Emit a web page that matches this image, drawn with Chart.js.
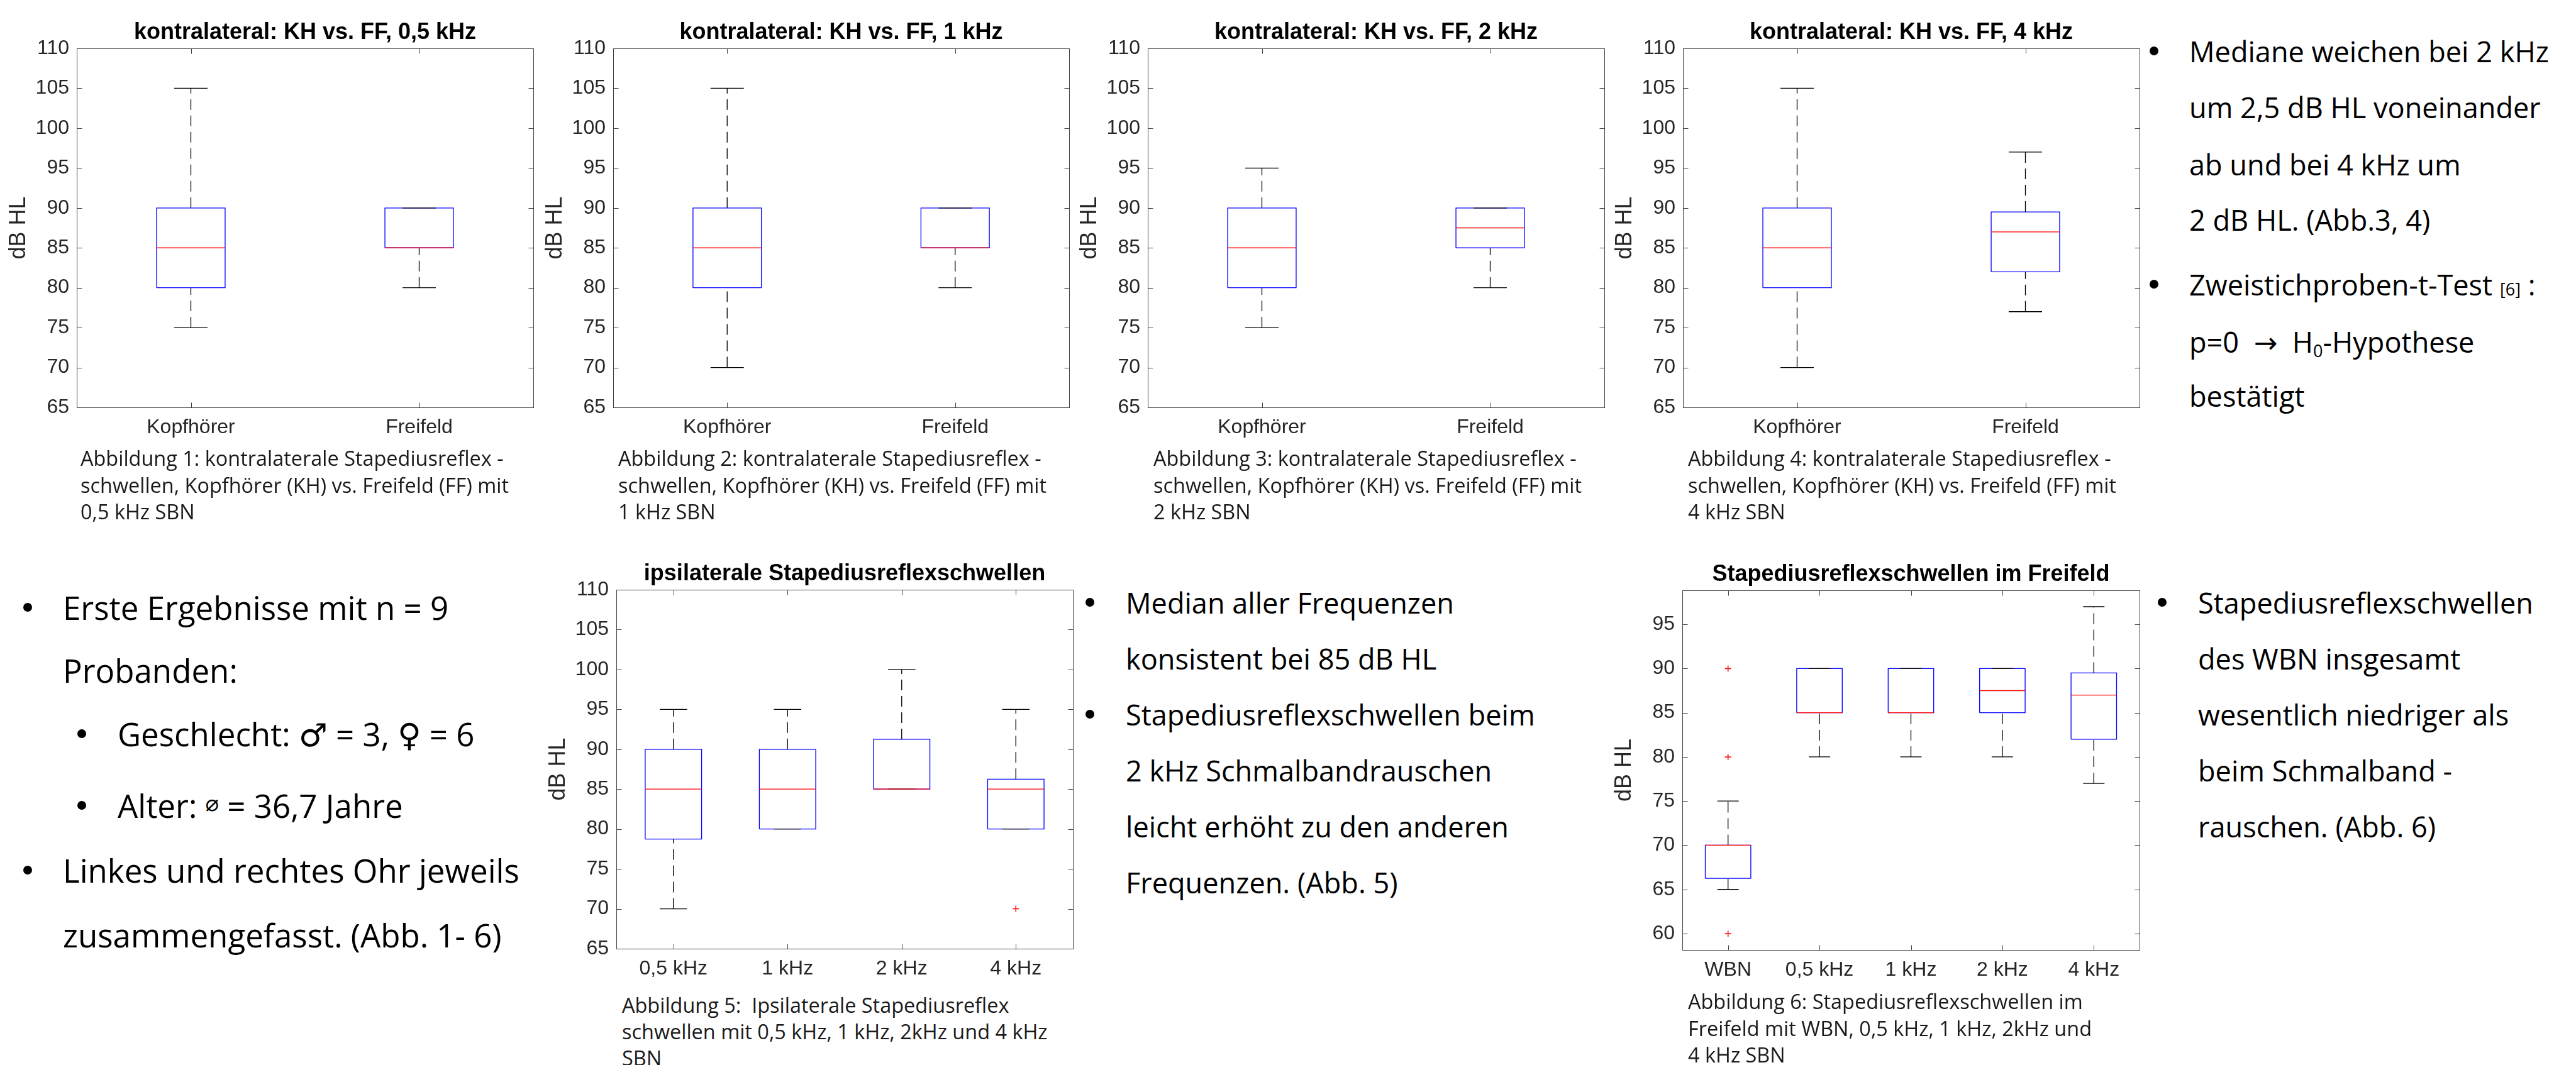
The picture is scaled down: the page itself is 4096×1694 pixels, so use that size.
<!DOCTYPE html>
<html>
<head>
<meta charset="utf-8">
<script src="https://cdn.jsdelivr.net/npm/chart.js@4"></script>
<style>
  body { margin: 0; width: 4096px; height: 1694px; background: #fff; position: relative; overflow: hidden; }
  canvas { position: absolute; }
  .txt { position: absolute; line-height: 1; white-space: nowrap; font-family: "Open Sans", "DejaVu Sans", sans-serif; font-weight: 400; color: #000; }
  .cap { color: #1a1a1a; }
  .ref { font-size: 60%; }
  .avg { font-size: 70%; position: relative; top: -0.3em; }
  sub { font-size: 60%; vertical-align: -0.25em; line-height: 0; }
  .dot { position: absolute; width: 14px; height: 14px; border-radius: 50%; background: #000; }
</style>
</head>
<body>
<script>
const kontraLabels = ['Kopfhörer', 'Freifeld'];
const kontraTicks = [65, 70, 75, 80, 85, 90, 95, 100, 105, 110];

// kontralateral 0,5 kHz
const k05Low = [75, 80];
const k05Q1 = [80, 85];
const k05Median = [85, 85];
const k05Q3 = [90, 90];
const k05High = [105, 90];

// kontralateral 1 kHz
const k1Low = [70, 80];
const k1Q1 = [80, 85];
const k1Median = [85, 85];
const k1Q3 = [90, 90];
const k1High = [105, 90];

// kontralateral 2 kHz
const k2Low = [75, 80];
const k2Q1 = [80, 85];
const k2Median = [85, 87.5];
const k2Q3 = [90, 90];
const k2High = [95, 90];

// kontralateral 4 kHz
const k4Low = [70, 77];
const k4Q1 = [80, 82];
const k4Median = [85, 87];
const k4Q3 = [90, 89.5];
const k4High = [105, 97];

// ipsilateral
const ipsiLabels = ['0,5 kHz', '1 kHz', '2 kHz', '4 kHz'];
const ipsiLow = [70, 80, 85, 80];
const ipsiQ1 = [78.75, 80, 85, 80];
const ipsiMedian = [85, 85, 85, 85];
const ipsiQ3 = [90, 90, 91.25, 86.25];
const ipsiHigh = [95, 95, 100, 95];
const ipsiOutliers = [[], [], [], [70]];

// Freifeld incl. WBN
const freeLabels = ['WBN', '0,5 kHz', '1 kHz', '2 kHz', '4 kHz'];
const freeTicks = [60, 65, 70, 75, 80, 85, 90, 95];
const freeLow = [65, 80, 80, 80, 77];
const freeQ1 = [66.25, 85, 85, 85, 82];
const freeMedian = [70, 85, 85, 87.5, 87];
const freeQ3 = [70, 90, 90, 90, 89.5];
const freeHigh = [75, 90, 90, 90, 97];
const freeOutliers = [[60, 80, 90], [], [], [], []];

Chart.defaults.font.family = '"Liberation Sans", Arial, sans-serif';

// matlab style frame with inward ticks on all four sides
const matlabFrame = {
    id: 'matlabFrame',
    beforeDatasetsDraw: function (chart) {
        const ctx = chart.ctx;
        const a = chart.chartArea;
        const x = chart.scales.x, y = chart.scales.y;
        const l = Math.round(a.left) + 0.5, r = Math.round(a.right) + 0.5;
        const t = Math.round(a.top) + 0.5, b = Math.round(a.bottom) + 0.5;
        const tl = 8;
        ctx.save();
        ctx.strokeStyle = '#404040';
        ctx.lineWidth = 1;
        ctx.strokeRect(l, t, r - l, b - t);
        ctx.beginPath();
        y.ticks.forEach(function (tk) {
            const py = Math.round(y.getPixelForValue(tk.value)) + 0.5;
            ctx.moveTo(l, py); ctx.lineTo(l + tl, py);
            ctx.moveTo(r, py); ctx.lineTo(r - tl, py);
        });
        x.ticks.forEach(function (tk) {
            const px = Math.round(x.getPixelForValue(tk.value)) + 0.5;
            ctx.moveTo(px, b); ctx.lineTo(px, b - tl);
            ctx.moveTo(px, t); ctx.lineTo(px, t + tl);
        });
        ctx.stroke();
        ctx.restore();
    }
};

function lineSet(data, color, order, dash) {
    return {
        data: data, showLine: true, pointRadius: 0, pointHoverRadius: 0,
        borderColor: color, borderWidth: 1.3, borderDash: dash || [], tension: 0,
        fill: false, order: order, segment: {}
    };
}

// rect = plot area in page pixels
function drawBoxplot(rect, spec) {
    const n = spec.labels.length;
    const bh = spec.boxHalf, ch = spec.capHalf;
    const whiskers = [], caps = [], boxes = [], medians = [], outliers = [];

    for (let i = 0; i < n; i++) {
        const x = i + 1;
        const gap = { x: x, y: null };
        if (spec.high[i] > spec.q3[i]) whiskers.push({ x: x, y: spec.q3[i] }, { x: x, y: spec.high[i] }, gap);
        if (spec.low[i] < spec.q1[i]) whiskers.push({ x: x, y: spec.low[i] }, { x: x, y: spec.q1[i] }, gap);
        caps.push({ x: x - ch, y: spec.high[i] }, { x: x + ch, y: spec.high[i] }, gap);
        caps.push({ x: x - ch, y: spec.low[i] }, { x: x + ch, y: spec.low[i] }, gap);
        boxes.push({ x: x - bh, y: spec.q1[i] }, { x: x + bh, y: spec.q1[i] }, { x: x + bh, y: spec.q3[i] },
            { x: x - bh, y: spec.q3[i] }, { x: x - bh, y: spec.q1[i] }, gap);
        medians.push({ x: x - bh, y: spec.median[i] }, { x: x + bh, y: spec.median[i] }, gap);
        (spec.outliers ? spec.outliers[i] : []).forEach(function (v) { outliers.push({ x: x, y: v }); });
    }

    const canvas = document.createElement('canvas');
    canvas.width = (rect.R - rect.L) + 135;
    canvas.height = (rect.B - rect.T) + 137;
    canvas.style.left = (rect.L - 125) + 'px';
    canvas.style.top = (rect.T - 77) + 'px';
    document.body.appendChild(canvas);

    new Chart(canvas.getContext('2d'), {
        type: 'scatter',
        data: {
            datasets: [
                lineSet(boxes, '#0000ff', 5),
                lineSet(whiskers, '#000000', 4, [17, 9]),
                lineSet(caps, '#000000', 3),
                lineSet(medians, '#ff0000', 2),
                {
                    data: outliers, showLine: false, pointStyle: 'cross', pointRadius: 5,
                    borderColor: '#ff0000', pointBorderColor: '#ff0000', pointBorderWidth: 1.5, order: 1
                }
            ]
        },
        options: {
            responsive: false,
            animation: false,
            devicePixelRatio: 1,
            events: [],
            layout: { padding: { left: 0, right: 10, top: 0, bottom: 0 } },
            plugins: {
                legend: { display: false },
                tooltip: { enabled: false },
                title: {
                    display: true, text: spec.title, fullSize: false, color: '#000',
                    font: { size: 36, weight: 'bold' }, padding: { top: 30.4, bottom: 3.4 }
                }
            },
            scales: {
                x: {
                    type: 'linear', min: 0.5, max: n + 0.5,
                    grid: { display: false, drawTicks: false }, border: { display: false },
                    afterBuildTicks: function (s) { s.ticks = spec.labels.map(function (l, i) { return { value: i + 1 }; }); },
                    afterFit: function (s) { s.height = 60; },
                    ticks: {
                        autoSkip: false, maxRotation: 0, padding: 13, color: '#262626', font: { size: 32 },
                        callback: function (v) { return spec.labels[Math.round(v) - 1]; }
                    }
                },
                y: {
                    min: spec.yMin, max: spec.yMax,
                    grid: { display: false, drawTicks: false }, border: { display: false },
                    afterBuildTicks: function (s) { s.ticks = spec.ticks.map(function (v) { return { value: v }; }); },
                    afterFit: function (s) { s.width = 125; },
                    ticks: { autoSkip: false, padding: 12, color: '#262626', font: { size: 32 } },
                    title: { display: true, text: 'dB HL', color: '#262626', font: { size: 36 }, padding: { top: 11.4, bottom: 0 } }
                }
            }
        },
        plugins: [matlabFrame]
    });
}

const twoBox = { boxHalf: 0.15, capHalf: 0.073 };

drawBoxplot({ L: 122, R: 848, T: 77, B: 648 }, Object.assign({
    title: 'kontralateral: KH vs. FF, 0,5 kHz', labels: kontraLabels, ticks: kontraTicks, yMin: 65, yMax: 110,
    low: k05Low, q1: k05Q1, median: k05Median, q3: k05Q3, high: k05High
}, twoBox));

drawBoxplot({ L: 975, R: 1700, T: 77, B: 648 }, Object.assign({
    title: 'kontralateral: KH vs. FF, 1 kHz', labels: kontraLabels, ticks: kontraTicks, yMin: 65, yMax: 110,
    low: k1Low, q1: k1Q1, median: k1Median, q3: k1Q3, high: k1High
}, twoBox));

drawBoxplot({ L: 1825, R: 2551, T: 77, B: 648 }, Object.assign({
    title: 'kontralateral: KH vs. FF, 2 kHz', labels: kontraLabels, ticks: kontraTicks, yMin: 65, yMax: 110,
    low: k2Low, q1: k2Q1, median: k2Median, q3: k2Q3, high: k2High
}, twoBox));

drawBoxplot({ L: 2676, R: 3402, T: 77, B: 648 }, Object.assign({
    title: 'kontralateral: KH vs. FF, 4 kHz', labels: kontraLabels, ticks: kontraTicks, yMin: 65, yMax: 110,
    low: k4Low, q1: k4Q1, median: k4Median, q3: k4Q3, high: k4High
}, twoBox));

drawBoxplot({ L: 980, R: 1706, T: 938, B: 1509 }, {
    title: 'ipsilaterale Stapediusreflexschwellen', labels: ipsiLabels, ticks: kontraTicks, yMin: 65, yMax: 110,
    low: ipsiLow, q1: ipsiQ1, median: ipsiMedian, q3: ipsiQ3, high: ipsiHigh, outliers: ipsiOutliers,
    boxHalf: 0.247, capHalf: 0.12
});

drawBoxplot({ L: 2675, R: 3402, T: 939, B: 1511 }, {
    title: 'Stapediusreflexschwellen im Freifeld', labels: freeLabels, ticks: freeTicks, yMin: 58.15, yMax: 98.85,
    low: freeLow, q1: freeQ1, median: freeMedian, q3: freeQ3, high: freeHigh, outliers: freeOutliers,
    boxHalf: 0.249, capHalf: 0.117
});

// ---- text blocks ----
function fitSize(text, target) {
    const ctx = document.createElement('canvas').getContext('2d');
    ctx.font = '400 100px "Open Sans"';
    return 100 * target / ctx.measureText(text).width;
}

function addLine(html, x, cy, size, cls) {
    const d = document.createElement('div');
    d.className = 'txt' + (cls ? ' ' + cls : '');
    d.innerHTML = html;
    d.style.left = x + 'px';
    d.style.top = (cy - 0.531 * size) + 'px';
    d.style.fontSize = size + 'px';
    document.body.appendChild(d);
}

// round list bullet centred at (x, cy)
function addDot(x, cy) {
    const d = document.createElement('div');
    d.className = 'dot';
    d.style.left = (x - 7) + 'px';
    d.style.top = (cy - 9) + 'px';
    document.body.appendChild(d);
}

function writeBlock(lines, pos, size) {
    lines.forEach(function (ln) {
        const sub = ln.sub;
        if (ln.bullet) addDot(sub ? pos.subBullet : pos.bullet, ln.y);
        addLine(ln.t, sub ? pos.subText : pos.text, ln.y, size);
    });
}

const bodySize = (fitSize('Mediane weichen bei 2 kHz', 584) +
    fitSize('Stapediusreflexschwellen beim', 640) +
    fitSize('wesentlich niedriger als', 492)) / 3;
const leftSize = fitSize('Linkes und rechtes Ohr jeweils', 726);
const capSize = fitSize('Abbildung 1: kontralaterale Stapediusreflex -', 673);

writeBlock([
    { bullet: true, t: 'Mediane weichen bei 2 kHz', y: 83 },
    { t: 'um 2,5 dB HL voneinander', y: 171.5 },
    { t: 'ab und bei 4 kHz um', y: 262.5 },
    { t: '2 dB HL. (Abb.3, 4)', y: 351 },
    { bullet: true, t: 'Zweistichproben-t-Test <span class="ref">[6]</span> :', y: 454 },
    { t: 'p=0 &nbsp;→&nbsp; H<sub>0</sub>-Hypothese', y: 545 },
    { t: 'bestätigt', y: 631 }
], { bullet: 3425, text: 3481 }, bodySize);

writeBlock([
    { bullet: true, t: 'Erste Ergebnisse mit n = 9', y: 968 },
    { t: 'Probanden:', y: 1068 },
    { bullet: true, sub: true, t: 'Geschlecht: ♂ = 3, ♀ = 6', y: 1169 },
    { bullet: true, sub: true, t: 'Alter: <span class="avg">⌀</span> = 36,7 Jahre', y: 1283 },
    { bullet: true, t: 'Linkes und rechtes Ohr jeweils', y: 1386 },
    { t: 'zusammengefasst. (Abb. 1- 6)', y: 1489 }
], { bullet: 44, text: 100, subBullet: 130, subText: 187 }, leftSize);

writeBlock([
    { bullet: true, t: 'Median aller Frequenzen', y: 960 },
    { t: 'konsistent bei 85 dB HL', y: 1049 },
    { bullet: true, t: 'Stapediusreflexschwellen beim', y: 1138 },
    { t: '2 kHz Schmalbandrauschen', y: 1227 },
    { t: 'leicht erhöht zu den anderen', y: 1316 },
    { t: 'Frequenzen. (Abb. 5)', y: 1405 }
], { bullet: 1733, text: 1790 }, bodySize);

writeBlock([
    { bullet: true, t: 'Stapediusreflexschwellen', y: 960 },
    { t: 'des WBN insgesamt', y: 1049 },
    { t: 'wesentlich niedriger als', y: 1138 },
    { t: 'beim Schmalband -', y: 1227 },
    { t: 'rauschen. (Abb. 6)', y: 1316 }
], { bullet: 3438, text: 3495 }, bodySize);

// figure captions
function caption(lines, x, ys) {
    lines.forEach(function (t, i) { addLine(t, x, ys[i], capSize, 'cap'); });
}
const topCapY = [730, 773, 815];
caption(['Abbildung 1: kontralaterale Stapediusreflex -', 'schwellen, Kopfhörer (KH) vs. Freifeld (FF) mit', '0,5 kHz SBN'], 128, topCapY);
caption(['Abbildung 2: kontralaterale Stapediusreflex -', 'schwellen, Kopfhörer (KH) vs. Freifeld (FF) mit', '1 kHz SBN'], 983, topCapY);
caption(['Abbildung 3: kontralaterale Stapediusreflex -', 'schwellen, Kopfhörer (KH) vs. Freifeld (FF) mit', '2 kHz SBN'], 1834, topCapY);
caption(['Abbildung 4: kontralaterale Stapediusreflex -', 'schwellen, Kopfhörer (KH) vs. Freifeld (FF) mit', '4 kHz SBN'], 2684, topCapY);
caption(['Abbildung 5:&nbsp; Ipsilaterale Stapediusreflex', 'schwellen mit 0,5 kHz, 1 kHz, 2kHz und 4 kHz', 'SBN'], 989, [1600, 1642, 1684]);
caption(['Abbildung 6: Stapediusreflexschwellen im', 'Freifeld mit WBN, 0,5 kHz, 1 kHz, 2kHz und', '4 kHz SBN'], 2684, [1594, 1637, 1679]);
</script>
</body>
</html>
